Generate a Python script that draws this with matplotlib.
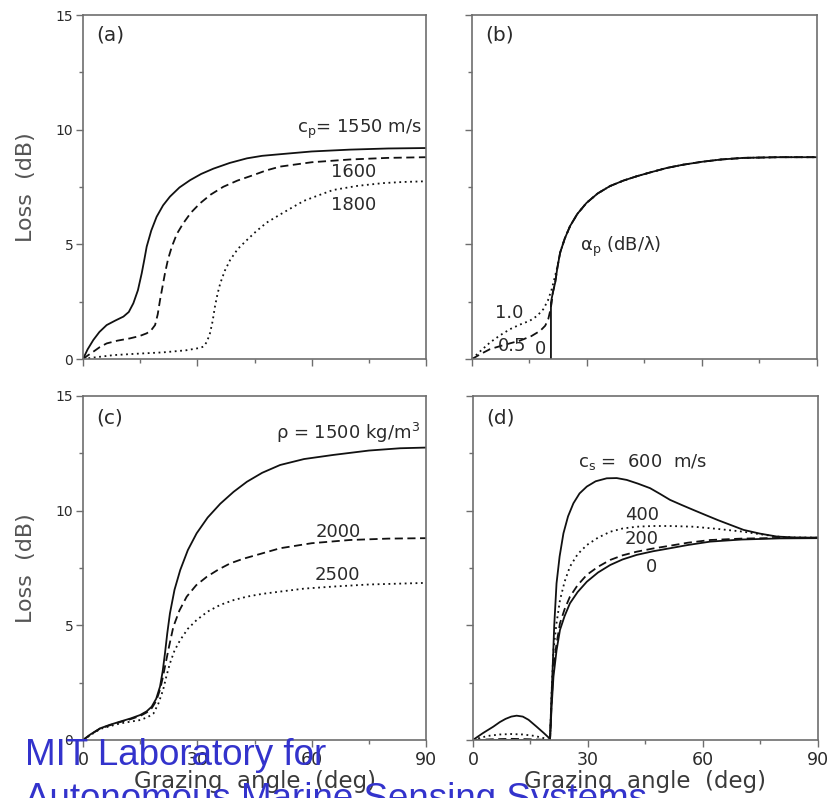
import matplotlib
matplotlib.use("Agg")
import matplotlib.pyplot as plt
from matplotlib.ticker import MultipleLocator

plt.rcParams['font.family'] = ['DejaVu Sans']

# ---- panel (a): compressional speed c_p ----
a_x_1550 = [0, 1.2, 2.7, 4.3, 6.2, 8.5, 10.6, 12, 13.2, 14.4, 15.4, 16.1, 16.7, 17.9, 19.3, 21, 22.8,
            25.3, 28.1, 31, 34.2, 38.5, 43, 47, 51.7, 60, 70, 80, 90]
a_y_1550 = [0, 0.42, 0.83, 1.18, 1.48, 1.68, 1.85, 2.05, 2.43, 3.0, 3.74, 4.35, 4.9, 5.6, 6.2, 6.7, 7.08,
            7.48, 7.8, 8.07, 8.3, 8.55, 8.75, 8.86, 8.93, 9.05, 9.13, 9.18, 9.2]
a_x_1600 = [0, 1.2, 2.7, 4.4, 6.2, 9, 12.3, 14.8, 16.7, 17.9, 18.9, 19.6, 20.2, 20.9, 21.5, 22.3, 23.3,
            24.6, 26.3, 28.3, 30.7, 33.5, 36.8, 40.5, 44.7, 48, 51.7, 60, 70, 80, 90]
a_y_1600 = [0, 0.15, 0.32, 0.52, 0.68, 0.8, 0.9, 1.0, 1.12, 1.26, 1.48, 1.95, 2.57, 3.2, 3.74, 4.35, 4.9,
            5.45, 5.92, 6.38, 6.79, 7.17, 7.51, 7.78, 8.02, 8.22, 8.39, 8.58, 8.7, 8.77, 8.8]
a_x_1800 = [0, 3, 8, 14, 21, 27, 30.5, 31.6, 32.5, 33.3, 34, 34.6, 35.3, 36, 37.2, 38.6, 40.6, 43,
            45.5, 48.2, 51.7, 55, 58, 61.5, 65.6, 72, 78.7, 84, 90]
a_y_1800 = [0, 0.07, 0.17, 0.23, 0.29, 0.38, 0.48, 0.54, 0.75, 1.12, 1.65, 2.28, 2.85, 3.3, 3.85, 4.32, 4.8, 5.19,
            5.58, 5.95, 6.3, 6.62, 6.9, 7.12, 7.37, 7.55, 7.67, 7.72, 7.75]

# ---- panel (b): attenuation alpha_p (curves merge above ~21 deg) ----
b_tail_x = [21.1, 21.7, 22.3, 23, 24.2, 25.6, 27.5, 29.9, 32.8, 36, 39.5, 43, 46.8, 50.8, 55, 60, 65,
            70.8, 80, 90]
b_tail_y = [2.9, 3.33, 4.0, 4.64, 5.25, 5.8, 6.33, 6.81, 7.22, 7.54, 7.78, 7.97, 8.15, 8.33, 8.47, 8.6, 8.7,
            8.77, 8.8, 8.8]
b_x_0 = [20.6, 20.6] + b_tail_x
b_y_0 = [0, 2.46] + b_tail_y
b_x_05 = [0, 2.3, 4.7, 8.5, 12.5, 15.5, 17.8, 19.1, 19.9, 20.4, 20.8] + b_tail_x
b_y_05 = [0, 0.22, 0.43, 0.62, 0.8, 1.0, 1.23, 1.45, 1.74, 2.1, 2.46] + b_tail_y
b_x_10 = [0, 2.3, 4.7, 7.3, 9.9, 12.5, 15.1, 17, 18.6, 19.8, 20.8, 21.5, 22.1, 22.6] + b_tail_x[3:]
b_y_10 = [0, 0.36, 0.72, 1.03, 1.3, 1.5, 1.67, 1.88, 2.17, 2.55, 3.04, 3.5, 3.9, 4.3] + b_tail_y[3:]

# ---- panel (c): density rho ----
c_x_1500 = [0, 2, 4.5, 7, 9.7, 12.5, 15, 16.7, 18, 19.2, 20.2, 20.9, 21.5, 22.1, 22.8, 24, 25.5, 27.5,
            29.8, 32.7, 36, 39.5, 43, 47, 51.7, 58, 65.7, 75, 83.2, 90]
c_y_1500 = [0, 0.25, 0.51, 0.66, 0.8, 0.94, 1.09, 1.25, 1.45, 1.8, 2.33, 3.0, 3.78, 4.65, 5.52, 6.55, 7.41, 8.28,
            9.01, 9.7, 10.3, 10.82, 11.26, 11.65, 11.99, 12.25, 12.43, 12.62, 12.72, 12.75]
c_x_2000 = [0, 2, 4.5, 7, 9.7, 12.5, 15, 16.7, 18, 19.2, 20.2, 20.9, 21.5, 22.6, 23.7, 25.3, 27.2, 29.7,
            32.5, 35.5, 38.6, 42, 45.6, 51.7, 60, 70, 80, 90]
c_y_2000 = [0, 0.24, 0.5, 0.64, 0.78, 0.91, 1.05, 1.2, 1.38, 1.7, 2.2, 2.7, 3.2, 4.1, 4.94, 5.65, 6.25, 6.75,
            7.12, 7.43, 7.7, 7.9, 8.07, 8.36, 8.58, 8.72, 8.78, 8.8]
c_x_2500 = [0, 2, 4.5, 7, 9.7, 12.5, 15, 17, 18.5, 19.8, 21, 21.9, 22.8, 24, 25.5, 27.5, 29.8, 32.7, 36,
            39.5, 43, 47, 51.7, 58, 65.7, 75, 90]
c_y_2500 = [0, 0.22, 0.48, 0.6, 0.72, 0.8, 0.87, 1.0, 1.16, 1.6, 2.18, 2.8, 3.34, 3.9, 4.36, 4.85, 5.23, 5.6, 5.89,
            6.1, 6.25, 6.37, 6.47, 6.6, 6.69, 6.78, 6.85]

# ---- panel (d): shear speed c_s ----
d_x_600 = [0, 2.6, 5.3, 7, 8.5, 10, 11.4, 13, 14.5, 16.6, 18.5, 20.1, 20.4, 20.8, 21.2, 21.8, 22.6, 23.6,
           24.8, 26.2, 27.8, 29.7, 32, 34.9, 37.5, 40.1, 43, 46.2, 48.8, 51.4, 54.4, 57.5, 60.8, 64, 67.3,
           70.6, 74.8, 79.3, 84, 90]
d_y_600 = [0, 0.3, 0.58, 0.78, 0.92, 1.02, 1.06, 1.02, 0.88, 0.58, 0.3, 0.05, 1.5, 3.2, 5.0, 6.83, 8.0, 9.01,
           9.75, 10.32, 10.75, 11.05, 11.28, 11.41, 11.42, 11.34, 11.18, 10.98, 10.73, 10.47, 10.25, 10.03, 9.8,
           9.58, 9.37, 9.16, 9.0, 8.87, 8.83, 8.82]
d_x_400 = [0, 2, 4, 7, 10, 13, 16, 18.5, 20.1, 20.5, 21, 21.8, 22.7, 23.9, 25.3, 27.3, 29.7, 32.6, 35.8,
           39, 42.7, 47, 51.4, 57.5, 64, 70.6, 75, 79.3, 84, 90]
d_y_400 = [0, 0.1, 0.18, 0.24, 0.26, 0.24, 0.18, 0.08, 0, 2.0, 3.92, 5.1, 6.1, 6.9, 7.56, 8.1, 8.5, 8.82, 9.08,
           9.22, 9.3, 9.33, 9.33, 9.3, 9.2, 9.08, 8.97, 8.87, 8.83, 8.82]
d_x_200 = [0, 5, 10, 15, 20.1, 20.5, 21, 21.8, 22.7, 23.9, 25.3, 27.3, 29.7, 32.6, 35.8, 39, 42.7, 47,
           51.4, 56, 61.9, 70, 80, 90]
d_y_200 = [0, 0.03, 0.05, 0.03, 0, 1.6, 3.2, 4.2, 5.09, 5.7, 6.25, 6.75, 7.2, 7.55, 7.85, 8.05, 8.21, 8.35,
           8.47, 8.6, 8.72, 8.78, 8.81, 8.82]
d_x_0 = [0, 20.1, 20.5, 21, 21.8, 22.7, 23.9, 25.3, 27.3, 29.7, 32.6, 35.8, 39, 42.7, 47, 51.4, 56, 61.9,
         70, 80, 90]
d_y_0 = [0, 0, 1.4, 2.76, 3.9, 4.8, 5.4, 5.96, 6.45, 6.9, 7.3, 7.63, 7.87, 8.07, 8.23, 8.36, 8.5, 8.65,
         8.74, 8.79, 8.8]

x_ticks = [0, 30, 60, 90]
y_ticks = [0, 5, 10, 15]

INK = '#111111'
FRAME = '#6e6e6e'
TXT = '#2a2a2a'
LAB = '#555555'
DASH = (0, (4.5, 2.5))
DOT = (0, (1.0, 2.0))

fig = plt.figure(figsize=(8.27, 7.98), dpi=100)
ax_a = fig.add_axes([0.1004, 0.5501, 0.4148, 0.4311])
ax_b = fig.add_axes([0.5707, 0.5501, 0.4172, 0.4311])
ax_c = fig.add_axes([0.1004, 0.0727, 0.4148, 0.4311])
ax_d = fig.add_axes([0.5719, 0.0727, 0.4172, 0.4311])


def style(ax, xlabels, ylabels):
    ax.set_xlim(0, 90)
    ax.set_ylim(0, 15)
    ax.set_xticks(x_ticks)
    ax.set_yticks(y_ticks)
    ax.xaxis.set_minor_locator(MultipleLocator(15))
    ax.yaxis.set_minor_locator(MultipleLocator(2.5))
    for s in ax.spines.values():
        s.set_color(FRAME)
        s.set_linewidth(1.2)
    ax.tick_params(which='major', direction='out', length=5, width=1, color=FRAME, labelcolor=TXT)
    ax.tick_params(which='minor', direction='out', length=3, width=1, color=FRAME)
    ax.tick_params(axis='y', labelsize=10, pad=2)
    ax.tick_params(axis='x', labelsize=12.5, pad=3)
    if not xlabels:
        ax.set_xticklabels([])
    if not ylabels:
        ax.set_yticklabels([])
    else:
        ax.set_ylabel('Loss  (dB)', fontsize=16, color=LAB, labelpad=14)
    if xlabels:
        ax.set_xlabel('Grazing  angle  (deg)', fontsize=16.5, color='#3a3a3a', labelpad=1)


style(ax_a, False, True)
style(ax_b, False, False)
style(ax_c, True, True)
style(ax_d, True, False)

FS = 13

# (a)
ax_a.plot(a_x_1550, a_y_1550, color=INK, lw=1.3)
ax_a.plot(a_x_1600, a_y_1600, color=INK, lw=1.3, linestyle=DASH)
ax_a.plot(a_x_1800, a_y_1800, color=INK, lw=1.3, linestyle=DOT)
ax_a.text(3.5, 13.9, '(a)', fontsize=14.5, color=TXT)
ax_a.text(89, 10.0, r'c$_\mathregular{p}$= 1550 m/s', fontsize=FS, color=TXT, ha='right', va='center')
ax_a.text(71, 8.15, '1600', fontsize=FS, color=TXT, ha='center', va='center')
ax_a.text(71, 6.7, '1800', fontsize=FS, color=TXT, ha='center', va='center')

# (b)
ax_b.plot(b_x_10, b_y_10, color=INK, lw=1.3, linestyle=DOT)
ax_b.plot(b_x_05, b_y_05, color=INK, lw=1.3, linestyle=DASH)
ax_b.plot(b_x_0, b_y_0, color=INK, lw=1.3)
ax_b.text(3.5, 13.9, '(b)', fontsize=14.5, color=TXT)
ax_b.text(28.2, 4.9, 'α$_\\mathregular{p}$ (dB/λ)', fontsize=FS, color=TXT, ha='left', va='center')
ax_b.text(9.7, 2.0, '1.0', fontsize=FS, color=TXT, ha='center', va='center')
ax_b.text(10.4, 0.57, '0.5', fontsize=FS, color=TXT, ha='center', va='center')
ax_b.text(17.8, 0.43, '0', fontsize=FS, color=TXT, ha='center', va='center')

# (c)
ax_c.plot(c_x_1500, c_y_1500, color=INK, lw=1.3)
ax_c.plot(c_x_2000, c_y_2000, color=INK, lw=1.3, linestyle=DASH)
ax_c.plot(c_x_2500, c_y_2500, color=INK, lw=1.3, linestyle=DOT)
ax_c.text(3.5, 13.8, '(c)', fontsize=14.5, color=TXT)
ax_c.text(50.5, 13.4, 'ρ = 1500 kg/m$^\\mathregular{3}$', fontsize=FS, color=TXT, ha='left', va='center')
ax_c.text(67, 9.07, '2000', fontsize=FS, color=TXT, ha='center', va='center')
ax_c.text(66.7, 7.2, '2500', fontsize=FS, color=TXT, ha='center', va='center')

# (d)
ax_d.plot(d_x_600, d_y_600, color=INK, lw=1.3)
ax_d.plot(d_x_400, d_y_400, color=INK, lw=1.3, linestyle=DOT)
ax_d.plot(d_x_200, d_y_200, color=INK, lw=1.3, linestyle=DASH)
ax_d.plot(d_x_0, d_y_0, color=INK, lw=1.3)
ax_d.text(3.5, 13.8, '(d)', fontsize=14.5, color=TXT)
ax_d.text(27.5, 12.1, r'c$_\mathregular{s}$ =  600  m/s', fontsize=FS, color=TXT, ha='left', va='center')
ax_d.text(44.1, 9.8, '400', fontsize=FS, color=TXT, ha='center', va='center')
ax_d.text(44.1, 8.77, '200', fontsize=FS, color=TXT, ha='center', va='center')
ax_d.text(46.7, 7.55, '0', fontsize=FS, color=TXT, ha='center', va='center')

# watermark
fig.text(0.030, 0.0414, 'MIT Laboratory for', fontsize=26.5, color='#3333cc', ha='left', va='baseline',
         family='Liberation Sans', zorder=10)
fig.text(0.030, -0.0137, 'Autonomous Marine Sensing Systems', fontsize=26.5, color='#3333cc', ha='left',
         va='baseline', family='Liberation Sans', zorder=10)

fig.savefig('out.png', dpi=100)
